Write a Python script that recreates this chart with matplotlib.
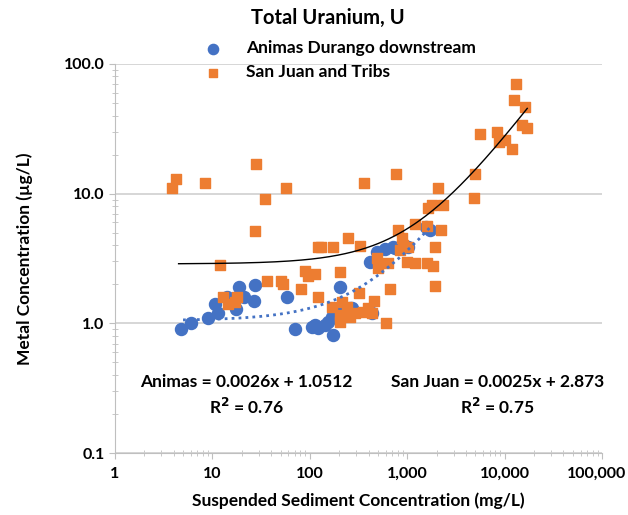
import numpy as np
import matplotlib.pyplot as plt
from matplotlib.ticker import FixedLocator, LogLocator, NullFormatter
from matplotlib.transforms import ScaledTranslation

plt.rcParams['font.family'] = ['Lato', 'DejaVu Sans']
plt.rcParams['font.weight'] = 'bold'
plt.rcParams['axes.labelweight'] = 'bold'

# Animas River at Durango and downstream
animas_ssc = [4.76, 6.03, 9.0, 11.4, 10.6, 17.5, 18.8, 21.1, 27.4, 26.7, 14.1, 58, 70.5,
              113, 121, 143, 154, 173, 105, 204, 219, 271, 435, 415, 490, 592, 750,
              1020, 1714, 1560, 181, 169, 259, 715]
animas_u = [0.906, 1.01, 1.10, 1.20, 1.41, 1.29, 1.91, 1.60, 1.98, 1.49, 1.60, 1.60, 0.906,
            0.97, 0.92, 0.97, 1.03, 0.815, 0.94, 1.91, 1.34, 1.32, 1.20, 2.97, 3.55, 3.75, 3.82,
            3.88, 5.25, 5.53, 1.12, 1.12, 1.32, 3.88]

# San Juan River and tributaries
sanjuan_ssc = [3.85, 4.23, 8.4, 28, 57, 34.7, 27.4, 121, 12, 36.4, 50.6, 53, 81, 89, 96, 113,
               121, 12.8, 14.5, 17.9, 17, 767, 360, 2070, 1800, 2330, 1635, 1200, 1600, 2220,
               805, 247, 130, 173, 328, 885, 905, 844, 1020, 1930, 490, 635, 502, 995, 1200,
               1600, 1840, 204, 666, 1930, 320, 456, 169, 214, 241, 291, 352, 396, 204, 259,
               204, 606, 435, 13100, 12500, 16200, 15100, 17000, 5590, 8350, 8760, 10100,
               11900, 4970, 4850]
sanjuan_u = [11.1, 13.0, 12.1, 16.9, 11.1, 9.1, 5.15, 3.88, 2.82, 2.12, 2.12, 2.01, 1.84, 2.54,
             2.32, 2.40, 1.60, 1.60, 1.41, 1.60, 1.46, 14.2, 12.1, 11.1, 8.2, 8.2, 7.76, 5.84,
             5.64, 5.25, 5.25, 4.55, 3.88, 3.88, 3.95, 4.55, 4.02, 3.68, 3.88, 3.88, 3.19, 2.92,
             2.67, 2.97, 2.92, 2.92, 2.77, 2.49, 1.84, 1.94, 1.71, 1.49, 1.34, 1.46, 1.34, 1.20,
             1.22, 1.32, 1.16, 1.12, 1.03, 1.01, 1.20, 70.2, 52.7, 46.5, 33.9, 32.1, 28.8, 29.9,
             25.1, 25.9, 22.1, 14.2, 9.27]

# linear trendlines (slope, intercept) and their x ranges
animas_fit = (0.0026, 1.0512)
animas_range = (5, 1700)
sanjuan_fit = (0.0025, 2.873)
sanjuan_range = (4.5, 17000)

x_ticks = [1, 10, 100, 1000, 10000, 100000]
x_labels = ['1', '10', '100', '1,000', '10,000', '100,000']
y_ticks = [0.1, 1, 10, 100]
y_labels = ['0.1', '1.0', '10.0', '100.0']

blue = '#4472C4'
orange = '#ED7D31'

fig = plt.figure(figsize=(6.28, 5.15), dpi=100)
ax = fig.add_axes([0.183, 0.120, 0.776, 0.756])

ax.scatter(animas_ssc, animas_u, s=75, marker='o', color=blue, zorder=3,
           label='Animas Durango downstream')
ax.scatter(sanjuan_ssc, sanjuan_u, s=58, marker='s', color=orange, zorder=3,
           label='San Juan and Tribs')

xa = np.geomspace(*animas_range, 200)
ax.plot(xa, animas_fit[0] * xa + animas_fit[1], color=blue, lw=2, ls=(0, (1, 1.5)), zorder=4)
xs = np.geomspace(*sanjuan_range, 200)
ax.plot(xs, sanjuan_fit[0] * xs + sanjuan_fit[1], color='black', lw=1, zorder=4)

ax.set_xscale('log')
ax.set_yscale('log')
ax.set_xlim(1, 100000)
ax.set_ylim(0.1, 100)
ax.xaxis.set_major_locator(FixedLocator(x_ticks))
ax.set_xticklabels(x_labels, fontweight='bold')
ax.yaxis.set_major_locator(FixedLocator(y_ticks))
ax.set_yticklabels(y_labels, fontweight='bold')
ax.xaxis.set_minor_locator(LogLocator(base=10, subs=np.arange(2, 10)))
ax.yaxis.set_minor_locator(LogLocator(base=10, subs=np.arange(2, 10)))
ax.xaxis.set_minor_formatter(NullFormatter())
ax.yaxis.set_minor_formatter(NullFormatter())

ax.grid(axis='y', which='major', color='#D0D0D0', lw=1.2)
ax.set_axisbelow(True)
for side in ['top', 'right']:
    ax.spines[side].set_visible(False)
for side in ['left', 'bottom']:
    ax.spines[side].set_color('#BFBFBF')
ax.tick_params(which='both', colors='#BFBFBF', labelcolor='black', labelsize=11.5, length=4)
ax.tick_params(which='minor', length=4, direction='inout')
ax.tick_params(axis='x', pad=6)

# keep the last x label inside the figure
last = ax.get_xticklabels()[-1]
last.set_transform(last.get_transform() + ScaledTranslation(-4 / 72, 0, fig.dpi_scale_trans))

ax.set_xlabel('Suspended Sediment Concentration (mg/L)', fontsize=12.5, labelpad=8)
ax.set_ylabel('Metal Concentration (µg/L)', fontsize=12.5, labelpad=22)

ax.text(0.27, 0.147, 'Animas = 0.0026x + 1.0512\nR$^2$ = 0.76', transform=ax.transAxes,
        ha='center', va='center', fontsize=12.5, linespacing=1.4)
ax.text(0.785, 0.147, 'San Juan = 0.0025x + 2.873\nR$^2$ = 0.75', transform=ax.transAxes,
        ha='center', va='center', fontsize=12.5, linespacing=1.4)

fig.text(0.522, 0.965, 'Total Uranium, U', ha='center', va='center', fontsize=14.5)
fig.legend(loc='upper left', bbox_to_anchor=(0.300, 0.935), frameon=False, fontsize=12.5,
           handletextpad=0.9, labelspacing=0.45, borderaxespad=0, scatterpoints=1,
           markerscale=0.85)

fig.savefig('out.png', dpi=100)
